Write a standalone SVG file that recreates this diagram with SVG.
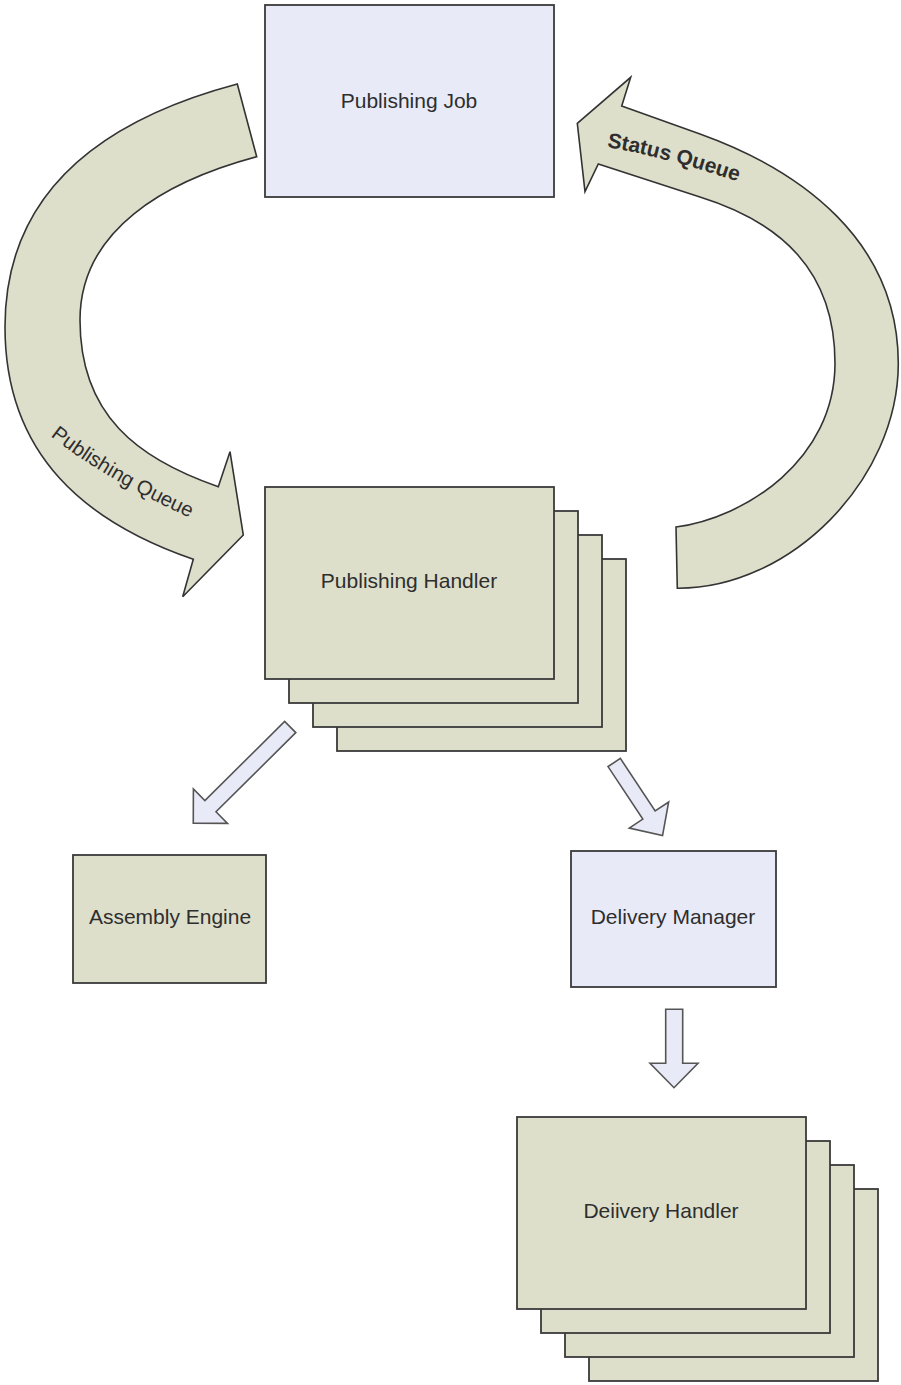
<svg xmlns="http://www.w3.org/2000/svg" width="901" height="1385" viewBox="0 0 901 1385">
<style>
.blue{fill:#E8EBF7;stroke:#3a3a3a;stroke-width:1.8}
.green{fill:#DEDFCB;stroke:#3a3a3a;stroke-width:1.8}
.lbl{font-family:"Liberation Sans",Arial,sans-serif;font-size:21px;fill:#2e2e2e;text-anchor:middle}
.big{fill:#DEDFCB;stroke:#333;stroke-width:1.6;stroke-linejoin:miter}
.small{fill:#E8EBF7;stroke:#555;stroke-width:1.6}
.qlbl{font-family:"Liberation Sans",Arial,sans-serif;font-size:20.5px;fill:#2e2e2e}
</style>
<rect width="901" height="1385" fill="#ffffff"/>
<defs>
<path id="pqPath" d="M49,435 Q107,481 197,521"/>
<path id="sqPath" d="M607,147 Q665,157 742,183"/>
</defs>
<g id="connectors">
<g id="publishing-queue">
<path class="big" d="M237.3,84 C102,120 5,192 5,327 C5,457 88,523 193.3,559.3 L182.7,596.7 L243.3,535 L230,451.7 L218.3,486.7 C137.5,458.8 80,415 80,320 C80,230 165,181.2 256.7,156.7 Z"/>
<text class="qlbl"><textPath href="#pqPath" startOffset="2">Publishing Queue</textPath></text>
</g>
<g id="status-queue">
<path class="big" d="M677.3,588.3 C790,589 898.3,480 898.3,363.3 C898,240 800,170 700,134 L621.7,106 L630.7,77.3 L577.3,123.3 L585,191.7 L598.3,164 L700,197 C780,222 835,270 835,363.3 C835,460 745,518 676,527 Z"/>
<text class="qlbl" style="font-weight:bold;font-size:21px"><textPath href="#sqPath">Status Queue</textPath></text>
</g>
<polygon id="to-assembly" class="small" transform="translate(290.2,727) rotate(135.2)" points="0,-7.9 112.4,-7.9 112.4,-24.2 136.6,0 112.4,24.2 112.4,7.9 0,7.9"/>
<polygon id="to-delivery-manager" class="small" transform="translate(614.2,762.5) rotate(56.5)" points="0,-7.4 63,-7.4 63,-23.6 87.6,0 63,23.6 63,7.4 0,7.4"/>
<polygon id="to-delivery-handler" class="small" points="665.7,1009.3 682.7,1009.3 682.7,1063.3 698,1063.3 674,1087.7 650,1063.3 665.7,1063.3"/>
</g>
<g id="publishing-job">
<rect class="blue" x="265" y="5" width="289" height="192"/>
<text class="lbl" x="409" y="107.5">Publishing Job</text>
</g>
<g id="publishing-handler">
<rect class="green" x="337" y="559" width="289" height="192"/>
<rect class="green" x="313" y="535" width="289" height="192"/>
<rect class="green" x="289" y="511" width="289" height="192"/>
<rect class="green" x="265" y="487" width="289" height="192"/>
<text class="lbl" x="409" y="587.5">Publishing Handler</text>
</g>
<g id="assembly-engine">
<rect class="green" x="73" y="855" width="193" height="128"/>
<text class="lbl" x="170" y="923.5">Assembly Engine</text>
</g>
<g id="delivery-manager">
<rect class="blue" x="571" y="851" width="205" height="136"/>
<text class="lbl" x="673" y="923.5">Delivery Manager</text>
</g>
<g id="delivery-handler">
<rect class="green" x="589" y="1189" width="289" height="192"/>
<rect class="green" x="565" y="1165" width="289" height="192"/>
<rect class="green" x="541" y="1141" width="289" height="192"/>
<rect class="green" x="517" y="1117" width="289" height="192"/>
<text class="lbl" x="661" y="1218">Deiivery Handler</text>
</g>
</svg>
